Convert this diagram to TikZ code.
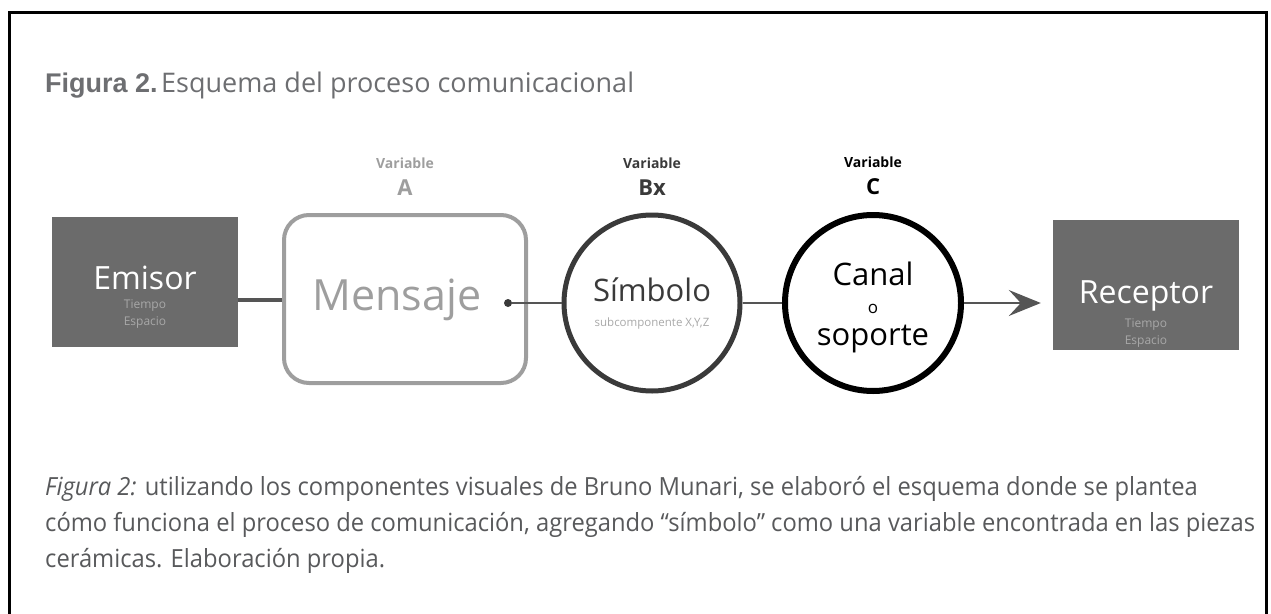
\documentclass[tikz,border=0pt]{standalone}
\usepackage{fontspec}
\setmainfont{Open Sans}
\newfontfamily\arialfont{Liberation Sans}
\newfontfamily\narrowfont[FakeStretch=0.95]{Open Sans}
\usetikzlibrary{positioning,arrows.meta}

\definecolor{boxgray}{HTML}{6B6B6B}
\definecolor{subgray}{HTML}{A8A8A8}
\definecolor{msggray}{HTML}{9E9E9E}
\definecolor{simbgray}{HTML}{3A3A3A}
\definecolor{linkgray}{HTML}{555555}
\definecolor{titlegray}{HTML}{6D6E71}
\definecolor{capgray}{HTML}{58595B}
\newcommand{\fs}[1]{\fontsize{#1}{#1}\selectfont}

\begin{document}
\begin{tikzpicture}[x=1pt,y=-1pt,
    endbox/.style={fill=boxgray,minimum width=186pt,minimum height=130pt,inner sep=0pt},
    boxtitle/.style={text=white,font=\fs{32},inner sep=0pt},
    boxsub/.style={text=subgray,font=\fontsize{12}{17}\selectfont,align=center,inner sep=0pt},
    varword/.style={font=\bfseries\fs{14},inner sep=0pt},
    varletter/.style={font=\bfseries\fs{22},inner sep=0pt},
    ring/.style={circle,draw,minimum size=176pt,inner sep=0pt},
    link/.style={draw=linkgray,line width=2pt},
    capline/.style={anchor=base west,inner sep=0pt,text=capgray,font=\narrowfont\fs{25}}]
    \useasboundingbox (0,0) rectangle (1271,613);
    \draw[line width=3pt] (9,640) -- (9,12) -- (1266,12) -- (1266,640);

    \node[anchor=base west,inner sep=0pt,text=titlegray] (titulo) at (45,92)
        {{\arialfont\bfseries\fs{27}Figura 2.} {\fs{27}Esquema del proceso comunicacional}};

    \node[endbox] (emisor) at (145,282) {};
    \node[boxtitle] (emisortxt) at (145,278) {Emisor};
    \node[boxsub,below=9pt of emisortxt] (emisorsub) {Tiempo\\Espacio};

    \node[draw=msggray,line width=4pt,rounded corners=25pt,minimum width=242pt,
        minimum height=168pt] (mensaje) at (405,299) {};
    \node[text=msggray,font=\fs{43},inner sep=0pt] (mensajetxt) at (397,300) {Mensaje};
    \node[circle,fill=simbgray,minimum size=8pt,inner sep=0pt] (punto) at (508,303) {};

    \node[ring,draw=simbgray,line width=5pt] (simbolo) at (652,303) {};
    \node[text=simbgray,font=\fs{31},inner sep=0pt] (simbolotxt) at (652,290) {Símbolo};
    \node[text=subgray,font=\fs{11.5},inner sep=0pt,below=15pt of simbolotxt] (simbolosub) {subcomponente X,Y,Z};

    \node[ring,draw=black,line width=6pt] (canal) at (873,303) {};
    \node[font=\fs{31},inner sep=0pt] (canaltxt) at (873,274) {Canal};
    \node[font=\fs{17},inner sep=0pt] (canalo) at (873,309) {o};
    \node[font=\fs{31},inner sep=0pt] (soporte) at (873,339) {soporte};

    \node[endbox] (receptor) at (1146,285) {};
    \node[boxtitle] (receptortxt) at (1146,296) {Receptor};
    \node[boxsub,below=7pt of receptortxt] (receptorsub) {Tiempo\\Espacio};

    \node[varletter,text=msggray,above=17pt of mensaje] (varA) {A};
    \node[varword,text=msggray,above=11pt of varA] (varAw) {Variable};
    \node[varletter,text=simbgray,above=17pt of simbolo] (varB) {Bx};
    \node[varword,text=simbgray,above=11pt of varB] (varBw) {Variable};
    \node[varletter,text=black,above=17pt of canal] (varC) {C};
    \node[varword,text=black,above=11pt of varC] (varCw) {Variable};

    \draw[link,line width=4pt] ([yshift=-18pt]emisor.east) -- ([yshift=-18pt]emisor.east -| mensaje.west);
    \draw[link] (punto) -- (simbolo);
    \draw[link] (simbolo) -- (canal);
    \draw[link,-{Stealth[length=32pt,width=26pt,inset=12pt]},shorten >=12pt]
        (canal.east) -- (canal.east -| receptor.west);

    \node[capline] (cap1) at (45,495)
        {\textit{Figura 2:} utilizando los componentes visuales de Bruno Munari, se elaboró el esquema donde se plantea};
    \node[capline,below=36pt of cap1.base west,anchor=base west] (cap2)
        {cómo funciona el proceso de comunicación, agregando “símbolo” como una variable encontrada en las piezas};
    \node[capline,below=36pt of cap2.base west,anchor=base west] (cap3)
        {cerámicas. Elaboración propia.};
\end{tikzpicture}
\end{document}
